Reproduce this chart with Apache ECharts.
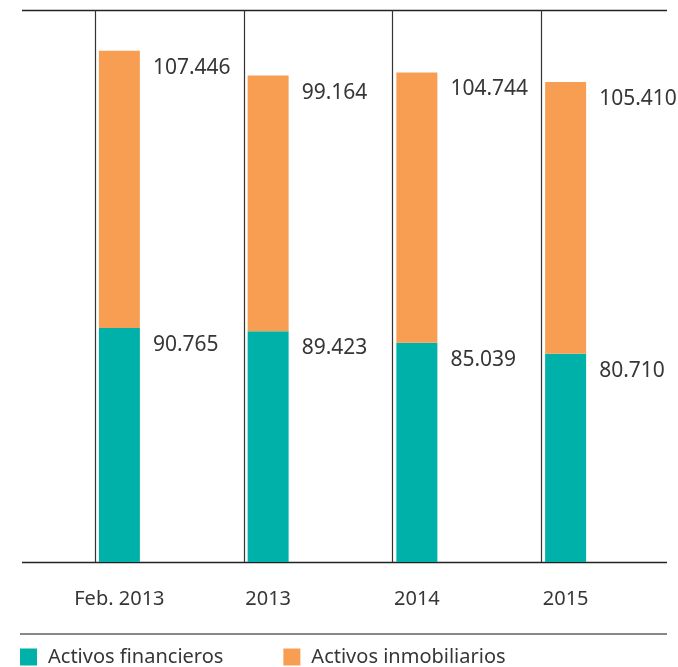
<!DOCTYPE html>
<html>
<head>
<meta charset="utf-8">
<script src="https://cdn.jsdelivr.net/npm/echarts@6/dist/echarts.min.js"></script>
<style>
  html, body { margin: 0; padding: 0; background: #fff; }
  #chart { width: 678px; height: 667px; }
</style>
</head>
<body>
<div id="chart"></div>
<script>
// datos (miles)
var categories = ['Feb. 2013', '2013', '2014', '2015']
var financieros = [90765, 89423, 85039, 80710]
var inmobiliarios = [107446, 99164, 104744, 105410]
var yMax = 214000

var BAR_W = 41
var VERDE = '#00b1aa'
var NARANJA = '#f79e53'

function fmt(v) {
  return String(v).replace(/\B(?=(\d{3})+(?!\d))/g, '.')
}

var labelStyle = {
  show: true,
  position: [BAR_W + 13, 17],
  align: 'left',
  verticalAlign: 'middle',
  color: '#363636',
  fontSize: 21,
  fontFamily: 'Noto Sans',
  formatter: function (p) { return fmt(p.value) }
}

var myChart = echarts.init(document.getElementById('chart'))
var option = {
  animation: false,
  textStyle: { fontFamily: 'Noto Sans' },
  grid: [
    { left: 45, right: 38, top: 10, bottom: 105 },
    { left: 22, right: 11, top: 10, bottom: 105 }   // solo para las líneas horizontales
  ],
  legend: {
    data: ['Activos financieros', 'Activos inmobiliarios'],
    left: 20,
    top: 647,
    padding: 0,
    icon: 'rect',
    itemWidth: 17,
    itemHeight: 17,
    itemGap: 60,
    textStyle: { color: '#363636', fontSize: 20, fontFamily: 'Noto Sans', padding: [0, 0, 0, 6] }
  },
  xAxis: [
    {
      type: 'category',
      data: categories,
      axisLine: { show: false },
      axisTick: { show: false },
      axisLabel: { color: '#363636', fontSize: 20, margin: 27, fontFamily: 'Noto Sans' }
    },
    { type: 'value', gridIndex: 1, show: false, min: 0, max: 1 }
  ],
  yAxis: [
    { type: 'value', min: 0, max: yMax, show: false },
    {
      type: 'value', gridIndex: 1, min: 0, max: 1, interval: 1,
      axisLine: { show: false }, axisTick: { show: false }, axisLabel: { show: false },
      splitLine: { show: true, lineStyle: { color: '#222', width: 1.3 } }
    }
  ],
  graphic: [
    {
      type: 'line',
      shape: { x1: 20, y1: 634, x2: 667, y2: 634 },
      style: { stroke: '#888', lineWidth: 2 }
    }
  ],
  series: [
    {
      // líneas verticales a la izquierda de cada barra
      type: 'custom',
      silent: true,
      data: categories.map(function (c, i) { return [i, yMax] }),
      renderItem: function (params, api) {
        var top = api.coord([api.value(0), api.value(1)])
        var bot = api.coord([api.value(0), 0])
        var x = Math.round(bot[0] - BAR_W / 2 - 4) + 0.5
        return {
          type: 'line',
          shape: { x1: x, y1: top[1], x2: x, y2: bot[1] },
          style: { stroke: '#333', lineWidth: 1.2 }
        }
      },
      z: 1
    },
    {
      name: 'Activos financieros',
      type: 'bar',
      stack: 'total',
      barWidth: BAR_W,
      data: financieros,
      itemStyle: { color: VERDE },
      label: labelStyle,
      z: 3
    },
    {
      name: 'Activos inmobiliarios',
      type: 'bar',
      stack: 'total',
      barWidth: BAR_W,
      data: inmobiliarios,
      itemStyle: { color: NARANJA },
      label: labelStyle,
      z: 3
    }
  ]
}
myChart.setOption(option)
</script>
</body>
</html>
